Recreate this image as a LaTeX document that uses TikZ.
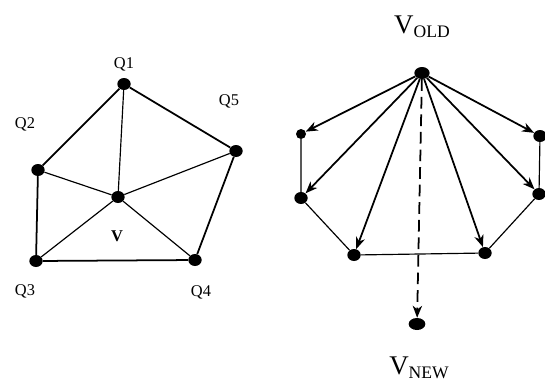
\documentclass[tikz,border=0pt]{standalone}
\usepackage{fontspec}
\setmainfont{Liberation Serif}
\usetikzlibrary{arrows.meta,shapes.geometric}

\begin{document}
\begin{tikzpicture}[>={Stealth[length=0.36cm,width=0.28cm,inset=0.11cm]},x=0.03cm,y=-0.03cm,font=\fontsize{14}{14}\selectfont]
\tikzstyle{dot}=[ellipse,fill,inner sep=0,minimum width=0.4cm,minimum height=0.36cm]
\tikzstyle{outer}=[line width=1.5pt]
\tikzstyle{inner}=[line width=1pt]
\useasboundingbox (0,0) rectangle (545,383);
% left: star of v
\node[dot] (q1) at (124,84) {};
\node[dot] (q2) at (38,170) {};
\node[dot] (q3) at (36,261) {};
\node[dot] (q4) at (195,260) {};
\node[dot] (q5) at (236,151) {};
\node[dot] (v) at (118,197) {};
\node (lq1) at (124,64) {Q1};
\node (lq2) at (25,124) {Q2};
\node (lq3) at (25,291) {Q3};
\node (lq4) at (201,292) {Q4};
\node (lq5) at (229,101) {Q5};
\node[font=\fontsize{14}{14}\selectfont\bfseries] (lv) at (117,236) {V};
\draw[outer] (q1) -- (q2) -- (q3) -- (q4) -- (q5) -- (q1);
\foreach \q in {q1,q2,q3,q4,q5} \draw[inner] (v) -- (\q);
% right: collapse of v_old
\node[dot,minimum width=0.46cm] (vo) at (422,73) {};
\node[dot,minimum width=0.3cm,minimum height=0.3cm] (lt) at (301,134) {};
\node[dot] (lm) at (301,198) {};
\node[dot] (bl) at (354,255) {};
\node[dot] (br) at (485,253) {};
\node[dot] (rm) at (539,194) {};
\node[dot] (rt) at (540,136) {};
\node[dot,minimum width=0.5cm] (vn) at (417,324) {};
\node (lvo) at (422,27) {\fontsize{23}{23}\selectfont V\raisebox{-3pt}{\fontsize{15}{15}\selectfont OLD}};
\node (lvn) at (419,368) {\fontsize{23}{23}\selectfont V\raisebox{-3pt}{\fontsize{15}{15}\selectfont NEW}};
\draw[inner] (lt) -- (lm) -- (bl) -- (br) -- (rm) -- (rt);
\foreach \p in {lt,lm,bl,br,rm,rt} \draw[->,outer] (vo) -- (\p);
\draw[->,outer,dash pattern=on 10pt off 5pt] (vo) -- (vn);
\end{tikzpicture}
\end{document}
